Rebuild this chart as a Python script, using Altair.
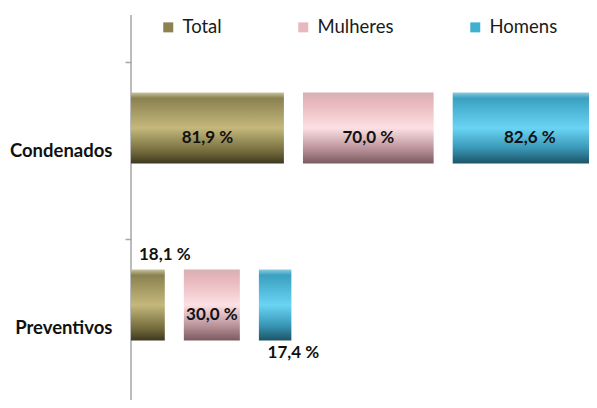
import altair as alt
import pandas as pd

categories = ["Condenados", "Preventivos"]
series = ["Total", "Mulheres", "Homens"]
total = [81.9, 18.1]
mulheres = [70.0, 30.0]
homens = [82.6, 17.4]
flat_colors = ["#8c8250", "#e9b8bf", "#3fb0d0"]

GAP = 10.2      # spacing between segments, in value units
PX = 1.867      # pixels per value unit
W, H = 458, 385

rows = []
for i, cat in enumerate(categories):
    start = 0.0
    for s, vals in zip(series, [total, mulheres, homens]):
        v = vals[i]
        rows.append(dict(cat=cat, serie=s, value=v, start=start, end=start + v,
                         mid=start + v / 2,
                         label=f"{v:.1f}".replace(".", ",") + " %"))
        start += v + GAP
df = pd.DataFrame(rows)

xscale = alt.Scale(domain=[0, W / PX], nice=False, zero=True)
yscale = alt.Scale(domain=categories, range=[47, 401], paddingInner=0, paddingOuter=0)
yaxis = alt.Axis(title=None, domain=False, ticks=True, tickBand="extent", tickSize=6,
                 tickColor="#a6a6a6", tickWidth=1.5, labelFont="Lato", labelFontWeight="bold",
                 labelFontSize=18.5, labelColor="#111111", labelPadding=13, grid=False)

X = lambda f: alt.X(f, scale=xscale, axis=None)
Y = alt.Y("cat:N", scale=yscale, axis=yaxis)

gradients = {
    "Total": [(0, "#c8c4a0"), (0.08, "#8a8150"), (0.5, "#c4b87c"), (0.85, "#6e6638"), (1, "#3c3820")],
    "Mulheres": [(0, "#d8b0b4"), (0.15, "#e8b8bc"), (0.5, "#fde0e4"), (0.8, "#b89098"), (1, "#7a5a60")],
    "Homens": [(0, "#8ccbe0"), (0.08, "#3aa0c0"), (0.5, "#6ad4f4"), (0.78, "#3a98b8"), (1, "#1c5466")],
}

layers = []
layers.append(
    alt.Chart(pd.DataFrame({"a": [0]})).mark_rule(color="#a6a6a6", strokeWidth=1.5)
    .encode(x=alt.value(0), y=alt.value(0), y2=alt.value(H))
)
for s in series:
    grad = alt.Gradient(gradient="linear", x1=0, x2=0, y1=0, y2=1,
                        stops=[alt.GradientStop(offset=o, color=c) for o, c in gradients[s]])
    layers.append(
        alt.Chart(df).transform_filter(alt.datum.serie == s)
        .mark_bar(height=71, yOffset=-22.5, clip=True, color=grad)
        .encode(x=X("start:Q"), x2="end:Q", y=Y)
    )

txt = dict(font="Lato", fontWeight="bold", fontSize=17, color="#111111", baseline="middle")
inside = alt.Chart(df).transform_filter(
    (alt.datum.cat == "Condenados") | (alt.datum.serie == "Mulheres")
).mark_text(yOffset=-12.5, **txt).encode(x=X("mid:Q"), y=Y, text="label:N")
above = alt.Chart(df).transform_filter(
    (alt.datum.cat == "Preventivos") & (alt.datum.serie == "Total")
).mark_text(yOffset=-72.5, **txt).encode(x=X("end:Q"), y=Y, text="label:N")
below = alt.Chart(df).transform_filter(
    (alt.datum.cat == "Preventivos") & (alt.datum.serie == "Homens")
).mark_text(yOffset=25.5, dx=2, **txt).encode(x=X("end:Q"), y=Y, text="label:N")

legend_layer = alt.Chart(df).mark_square(opacity=0).encode(
    x=X("start:Q"), y=Y,
    color=alt.Color("serie:N", scale=alt.Scale(domain=series, range=flat_colors),
                    legend=alt.Legend(orient="none", legendX=28, legendY=3, direction="horizontal",
                                      columns=3, title=None, symbolType="square", symbolSize=100,
                                      symbolOpacity=1, symbolStrokeWidth=0, labelFont="Lato",
                                      labelFontSize=18.5, labelColor="#1a1a1a", columnPadding=72,
                                      labelOffset=5)),
)

chart = alt.layer(*layers, inside, above, below, legend_layer).properties(
    width=W, height=H,
    autosize=alt.AutoSizeParams(type="none"),
    padding={"left": 123, "top": 7, "right": 0, "bottom": 0},
).configure_view(stroke=None)

chart.save("out.html", embed_options={"renderer": "svg", "actions": False})
